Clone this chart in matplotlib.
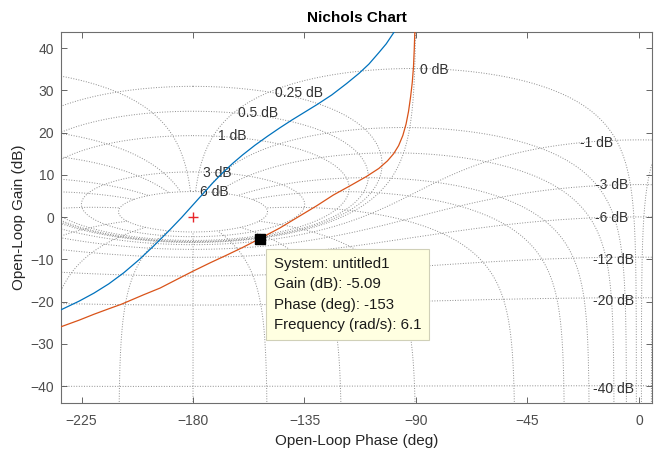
"""
Nichols chart with MATLAB-like grid
"""
import numpy as np
import matplotlib
matplotlib.use('Agg')
import matplotlib.pyplot as plt

plt.rcParams['font.family'] = ['Liberation Sans', 'DejaVu Sans']

# open-loop responses (phase in deg, gain in dB)
blue_phase = [-233.5, -226, -220, -214, -208, -202, -196, -190, -184.6, -180,
              -176, -172, -168, -164, -160, -155, -150, -145, -140, -135,
              -130, -124, -118, -113, -109, -105, -102, -98.8]
blue_gain = [-22.0, -19.9, -18.0, -15.8, -13.2, -10.2, -6.9, -3.4, -0.1, 2.9,
             5.5, 8.1, 10.5, 12.7, 14.7, 17.0, 19.1, 21.1, 23.0, 24.8,
             26.6, 28.9, 31.6, 34.0, 36.2, 38.9, 41.0, 43.8]

orange_phase = [-233.5, -226, -220, -214, -208.8, -200, -193.3, -186, -180, -173,
                -166.4, -160, -153, -145, -136.8, -130, -123.4, -116, -110, -105,
                -101.5, -99, -97, -95.3, -94, -93, -92.2, -91.5, -91.0, -90.7, -90.45]
orange_gain = [-26.0, -24.4, -23.0, -21.7, -20.6, -18.4, -16.8, -14.6, -12.8, -10.8,
               -9.0, -7.2, -5.09, -2.6, 0.3, 2.7, 5.2, 7.6, 9.6, 11.5,
               13.3, 15.0, 16.9, 19.3, 22.0, 25.0, 28.3, 31.8, 35.5, 39.5, 44.0]

# data tip
tip_system = 'untitled1'
tip_phase = -153
tip_gain = -5.09
tip_freq = 6.1

# Nichols grid levels (closed-loop gain in dB, closed-loop phase in deg)
cl_gains = [6, 3, 1, 0.5, 0.25, 0, -1, -3, -6, -12, -20, -40, -60]
cl_phases = [-1, -5, -10, -20, -30, -50, -90, -120, -150, -180,
             -210, -240, -270, -310, -330, -340, -350, -355, -359]

# grid labels and where they sit (phase, gain)
grid_labels = ['0.25 dB', '0.5 dB', '1 dB', '3 dB', '6 dB', '0 dB',
               '-1 dB', '-3 dB', '-6 dB', '-12 dB', '-20 dB', '-40 dB']
label_phase = [-146.9, -161.7, -169.8, -175.8, -177.2, -88.4,
               -23.8, -17.8, -17.8, -18.4, -18.4, -18.4]
label_gain = [29.3, 24.6, 19.1, 10.4, 5.9, 34.8,
              17.6, 7.6, -0.3, -10.2, -19.9, -40.8]


def gain_contour(g):
    m = 10 ** (g / 20.0)
    if g == 0:
        th = np.linspace(-0.02, -359.98, 4000)
    else:
        th = np.linspace(0, -360, 4000)
    T = m * np.exp(1j * np.radians(th))
    L = T / (1 - T)
    ph = np.degrees(np.unwrap(np.angle(L)))
    ph -= 360 * np.round((ph.mean() + 180) / 360)
    return ph, 20 * np.log10(np.abs(L))


def phase_contour(p, mmax):
    # phase lines stop at the largest closed-loop gain contour
    m = np.unique(np.concatenate([np.logspace(-3, np.log10(mmax), 3000),
                                  1 + np.linspace(-0.3, 0.3, 6001)]))
    m = m[m <= mmax]
    T = m * np.exp(1j * np.radians(p))
    L = T / (1 - T)
    ph = np.degrees(np.unwrap(np.angle(L)))
    ph += 360 * np.round((p - ph[0]) / 360)
    return ph, 20 * np.log10(np.abs(L))


fig = plt.figure(figsize=(6.61, 4.55), dpi=100)
ax = fig.add_axes([0.0923, 0.1143, 0.8941, 0.8154])

grid_kw = dict(color='#8c8c8c', linestyle=':', linewidth=0.7, zorder=1)
for g in cl_gains:
    ph, gn = gain_contour(g)
    for shift in (0, 360):
        ax.plot(ph + shift, gn, **grid_kw)
mmax = 10 ** (max(cl_gains) / 20.0)
for p in cl_phases:
    ph, gn = phase_contour(p, mmax)
    for shift in (0, 360):
        ax.plot(ph + shift, gn, **grid_kw)

for lbl, x, y in zip(grid_labels, label_phase, label_gain):
    ax.text(x, y, lbl, ha='left', va='center', fontsize=10, color='#333333', zorder=2)

ax.plot(blue_phase, blue_gain, color='#0072BD', linewidth=0.9, zorder=3)
ax.plot(orange_phase, orange_gain, color='#D95319', linewidth=0.9, zorder=3)

ax.plot(-180, 0, '+', color='#E8262A', markersize=7, markeredgewidth=1.0, zorder=4)

ax.plot(tip_phase, tip_gain, 's', color='black', markersize=7, zorder=5)
tip_text = (f'System: {tip_system}\nGain (dB): {tip_gain:.3g}\n'
            f'Phase (deg): {tip_phase:.3g}\nFrequency (rad/s): {tip_freq:.2g}')
ax.annotate(tip_text, xy=(tip_phase, tip_gain), xytext=(10, -13),
            textcoords='offset points', ha='left', va='top',
            fontsize=10.8, linespacing=1.6, color='#1a1a1a', zorder=6,
            bbox=dict(boxstyle='square,pad=0.5', fc='#FFFFE1', ec='#D0D0B8', lw=0.8))

ax.set_xlim(-233.3, 5.3)
ax.set_ylim(-44.0, 43.8)
ax.set_xticks([-225, -180, -135, -90, -45, 0])
ax.set_yticks(range(-40, 41, 10))

ax.tick_params(axis='both', which='major', direction='in', length=4, width=0.6,
               top=True, right=True, labelsize=10, labelcolor='#4d4d4d', color='#4d4d4d')
ax.tick_params(axis='x', pad=8)
ax.tick_params(axis='y', pad=5)
for s in ax.spines.values():
    s.set_color('#6e6e6e')
    s.set_linewidth(0.8)

ax.set_xlabel('Open-Loop Phase (deg)', fontsize=11, color='#262626', labelpad=4)
ax.set_ylabel('Open-Loop Gain (dB)', fontsize=11, color='#262626', labelpad=3)
ax.set_title('Nichols Chart', fontsize=11, fontweight='bold', pad=7)

fig.savefig('out.png', dpi=100, facecolor='white')
